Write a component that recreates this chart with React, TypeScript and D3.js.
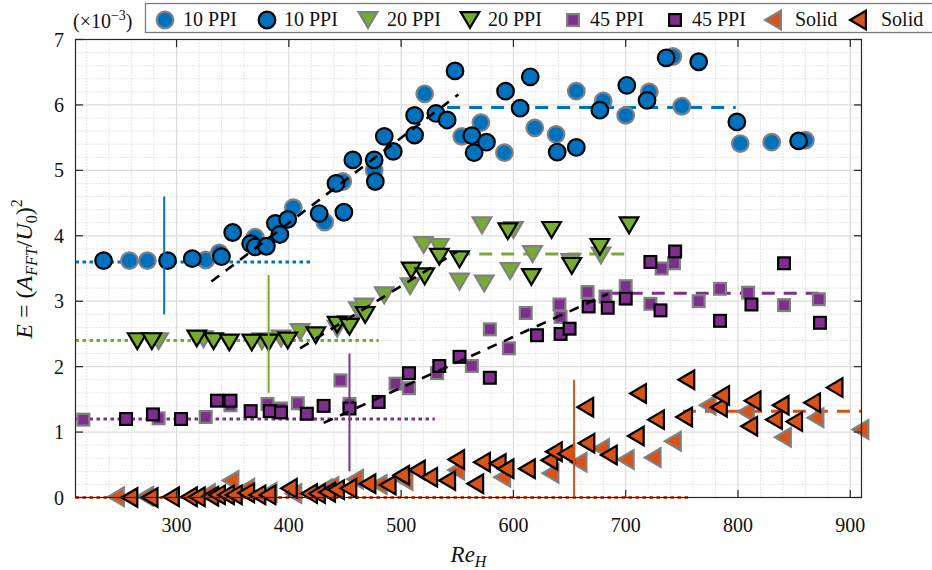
import React from 'react';
import * as d3 from 'd3';

// ---- data: Re_H and E (×10^-3) for each foam / solid case ----
const ppi10Gray: [number, number][] = [
  [258, 3.62], [274, 3.62], [326, 3.63], [338, 3.74], [370, 3.98], [404, 4.43], [432, 4.21],
  [448, 4.83], [476, 5.0], [521, 6.17], [554, 5.52], [571, 5.73], [592, 5.27], [619, 5.65],
  [638, 5.55], [656, 6.21], [680, 6.06], [700, 5.84], [721, 6.2], [742, 6.74], [750, 5.98],
  [802, 5.41], [830, 5.43], [860, 5.46],
];
const ppi10Black: [number, number][] = [
  [235, 3.62], [292, 3.62], [314, 3.65], [340, 3.68], [350, 4.05], [366, 3.88], [370, 3.83],
  [380, 3.84], [388, 4.19], [392, 4.02], [399, 4.25], [427, 4.34], [442, 4.8], [449, 4.36],
  [457, 5.16], [476, 5.16], [477, 4.83], [485, 5.52], [493, 5.29], [512, 5.84], [512, 5.54],
  [531, 5.87], [541, 5.77], [548, 6.52], [563, 5.53], [565, 5.27], [576, 5.43], [593, 6.21],
  [606, 5.95], [615, 6.43], [639, 5.28], [656, 5.35], [677, 5.92], [701, 6.3], [719, 6.07],
  [736, 6.72], [765, 6.66], [799, 5.74], [854, 5.45],
];
const ppi20Gray: [number, number][] = [
  [284, 2.39], [324, 2.42], [376, 2.39], [393, 2.43], [410, 2.53], [443, 2.58], [452, 2.65],
  [462, 2.86], [467, 2.92], [485, 3.09], [508, 3.23], [520, 3.86], [534, 3.83], [552, 3.3],
  [572, 4.16], [574, 3.27], [597, 3.46], [600, 4.09], [617, 3.72], [651, 3.6], [678, 3.7],
];
const ppi20Black: [number, number][] = [
  [265, 2.39], [278, 2.39], [318, 2.43], [333, 2.39], [347, 2.37], [367, 2.37], [382, 2.37],
  [399, 2.4], [424, 2.48], [443, 2.64], [454, 2.61], [468, 2.79], [509, 3.47], [521, 3.38],
  [534, 3.68], [552, 3.64], [595, 4.07], [616, 3.37], [634, 4.09], [652, 3.54], [677, 3.83],
  [703, 4.16],
];
const ppi45Gray: [number, number][] = [
  [217, 1.19], [284, 1.21], [326, 1.23], [348, 1.41], [381, 1.43], [393, 1.36], [408, 1.44],
  [446, 1.79], [454, 1.43], [495, 1.74], [507, 1.67], [532, 1.9], [563, 2.01], [579, 2.57],
  [596, 2.28], [611, 2.82], [641, 2.95], [642, 2.76], [666, 3.14], [682, 3.07], [700, 3.23],
  [722, 2.96], [732, 3.5], [743, 3.58], [765, 3.0], [784, 3.19], [809, 3.13], [841, 2.94],
  [872, 3.03],
];
const ppi45Black: [number, number][] = [
  [255, 1.2], [279, 1.27], [304, 1.2], [336, 1.48], [348, 1.48], [366, 1.32], [383, 1.32],
  [393, 1.3], [416, 1.28], [431, 1.4], [454, 1.36], [480, 1.46], [507, 1.9], [534, 2.01],
  [552, 2.15], [579, 1.83], [621, 2.48], [642, 2.5], [650, 2.58], [667, 2.92], [684, 2.9],
  [700, 3.04], [722, 3.6], [731, 2.86], [744, 3.76], [784, 2.7], [812, 2.95], [841, 3.58],
  [873, 2.67],
];
const solidGray: [number, number][] = [
  [246, 0.01], [272, 0.02], [327, 0.06], [348, 0.26], [362, 0.14], [382, 0.08], [404, 0.06],
  [431, 0.13], [437, 0.17], [459, 0.28], [480, 0.2], [503, 0.26], [549, 0.42], [590, 0.31],
  [633, 0.37], [658, 0.54], [678, 0.75], [700, 0.58], [724, 0.61], [742, 0.86], [773, 1.41],
  [807, 1.31], [840, 0.92], [869, 1.22], [909, 1.04],
];
const solidBlack: [number, number][] = [
  [258, 0.0], [276, 0.0], [295, 0.01], [311, 0.01], [318, 0.01], [330, 0.02], [336, 0.04],
  [344, 0.04], [351, 0.04], [362, 0.07], [372, 0.04], [381, 0.04], [400, 0.14], [418, 0.06],
  [425, 0.06], [434, 0.08], [442, 0.12], [453, 0.14], [470, 0.21], [488, 0.19], [500, 0.34],
  [514, 0.42], [525, 0.31], [541, 0.26], [549, 0.58], [566, 0.21], [572, 0.54], [586, 0.52],
  [593, 0.44], [612, 0.44], [632, 0.57], [636, 0.7], [647, 0.67], [664, 1.38], [665, 0.83],
  [685, 0.65], [709, 0.94], [711, 1.59], [727, 1.19], [752, 1.23], [754, 1.8], [783, 1.38],
  [785, 1.56], [810, 1.09], [813, 1.48], [832, 1.19], [838, 1.41], [850, 1.16], [866, 1.45],
  [886, 1.68],
];

// low-Re plateau levels [Re start, Re end, E]
const lowPlateaus: [number, number, number][] = [
  [210, 420, 3.6], [210, 480, 2.4], [210, 530, 1.2], [210, 758, 0],
];
// high-Re plateau levels [Re start, Re end, E]
const highPlateaus: [number, number, number][] = [
  [541, 798, 5.96], [550, 700, 3.72], [684, 874, 3.12], [751, 910, 1.32],
];
// linear growth fits [Re0, E0, Re1, E1]
const growthFits: [number, number, number, number][] = [
  [331, 3.3, 551, 6.16], [410, 2.28, 550, 3.76], [431, 1.14, 684, 3.11],
];
// onset markers [Re, E low, E high]
const onsetBars: [number, number, number][] = [
  [289, 2.8, 4.6], [382, 1.6, 3.4], [454, 0.4, 2.2], [654, 0, 1.8],
];

const xTicks = [300, 400, 500, 600, 700, 800, 900];
const yTicks = [0, 1, 2, 3, 4, 5, 6, 7];
const legendLabels = ['10 PPI', '10 PPI', '20 PPI', '20 PPI', '45 PPI', '45 PPI', 'Solid', 'Solid'];

// ---- styling ----
const BLUE = '#0072BD';
const GREEN = '#77AC30';
const PURPLE = '#7E2F8E';
const ORANGE = '#D95319';
const GRAY_EDGE = '#808080';
const SERIES_COLORS = [BLUE, GREEN, PURPLE, ORANGE];
const FONT = '"Liberation Serif", "Times New Roman", Times, serif';

type Shape = 'circle' | 'down' | 'square' | 'left';

const series: { data: [number, number][]; shape: Shape; fill: string; edge: string }[] = [
  { data: ppi10Gray, shape: 'circle', fill: BLUE, edge: GRAY_EDGE },
  { data: ppi10Black, shape: 'circle', fill: BLUE, edge: '#000' },
  { data: ppi20Gray, shape: 'down', fill: GREEN, edge: GRAY_EDGE },
  { data: ppi20Black, shape: 'down', fill: GREEN, edge: '#000' },
  { data: ppi45Gray, shape: 'square', fill: PURPLE, edge: GRAY_EDGE },
  { data: ppi45Black, shape: 'square', fill: PURPLE, edge: '#000' },
  { data: solidGray, shape: 'left', fill: ORANGE, edge: GRAY_EDGE },
  { data: solidBlack, shape: 'left', fill: ORANGE, edge: '#000' },
];

// legend slot centres (marker x, text x)
const legendMarkerX = [165, 267, 368, 470, 573, 675, 773, 858];
const legendTextX = [183, 284, 387, 488, 590, 692, 795, 881];

function Marker({ shape, x, y, fill, edge }: { shape: Shape; x: number; y: number; fill: string; edge: string }) {
  const common = { fill, stroke: edge, strokeWidth: 2.2, strokeLinejoin: 'miter' as const };
  if (shape === 'circle') return <circle cx={x} cy={y} r={8.3} {...common} />;
  if (shape === 'square') return <rect x={x - 5.9} y={y - 5.9} width={11.8} height={11.8} {...common} />;
  if (shape === 'down') {
    const a = 9.3, b = 7.9;
    return <path d={`M${x - a},${y - b}L${x + a},${y - b}L${x},${y + b}Z`} {...common} />;
  }
  const a = 7.9, b = 9.3;
  return <path d={`M${x - a},${y}L${x + a},${y - b}L${x + a},${y + b}Z`} {...common} />;
}

export default function App() {
  const W = 932, H = 570;
  const left = 75.5, right = 861.5, top = 39.5, bottom = 497.5;
  const x = d3.scaleLinear().domain([210, 910]).range([left, right]);
  const y = d3.scaleLinear().domain([0, 7]).range([bottom, top]);

  const minorX = d3.range(220, 910, 20).filter((v) => v % 100 !== 0);
  const minorY = d3.range(1, 35).map((i) => i * 0.2).filter((v) => Math.abs(v - Math.round(v)) > 1e-6);
  const tickLen = 7.5;
  const axisColor = '#262626';

  return (
    <svg width={W} height={H} style={{ position: 'absolute', left: 0, top: 0, background: '#fff' }} fontFamily={FONT}>
      <rect x={0} y={0} width={W} height={H} fill="#fff" />
      {/* minor grid */}
      <g stroke="#c0c0c0" strokeWidth={0.8} strokeDasharray="1 2">
        {minorX.map((v) => <line key={'mx' + v} x1={x(v)} x2={x(v)} y1={top} y2={bottom} />)}
        {minorY.map((v) => <line key={'my' + v} x1={left} x2={right} y1={y(v)} y2={y(v)} />)}
      </g>
      {/* major grid */}
      <g stroke="#dcdcdc" strokeWidth={1.2}>
        {xTicks.map((v) => <line key={'gx' + v} x1={x(v)} x2={x(v)} y1={top} y2={bottom} />)}
        {yTicks.slice(1, -1).map((v) => <line key={'gy' + v} x1={left} x2={right} y1={y(v)} y2={y(v)} />)}
      </g>

      {/* plateau levels */}
      {lowPlateaus.map(([a, b, e], i) => (
        <line key={'lp' + i} x1={x(a)} x2={x(b)} y1={y(e)} y2={y(e)} stroke={SERIES_COLORS[i]} strokeWidth={3} strokeDasharray="3.5 3.5" />
      ))}
      {highPlateaus.map(([a, b, e], i) => (
        <line key={'hp' + i} x1={x(a)} x2={x(b)} y1={y(e)} y2={y(e)} stroke={SERIES_COLORS[i]} strokeWidth={3} strokeDasharray="13 9" />
      ))}

      {/* measurements */}
      {series.map((s, si) => (
        <g key={'s' + si}>
          {s.data.map(([re, e], i) => (
            <Marker key={i} shape={s.shape} x={x(re)} y={y(e)} fill={s.fill} edge={s.edge} />
          ))}
        </g>
      ))}

      {/* growth fits */}
      {growthFits.map(([r0, e0, r1, e1], i) => (
        <line key={'gf' + i} x1={x(r0)} y1={y(e0)} x2={x(r1)} y2={y(e1)} stroke="#000" strokeWidth={2.6} strokeDasharray="10 8" />
      ))}
      {/* onset markers */}
      {onsetBars.map(([re, lo, hi], i) => (
        <line key={'ob' + i} x1={x(re)} x2={x(re)} y1={y(lo)} y2={y(hi)} stroke={SERIES_COLORS[i]} strokeWidth={2} />
      ))}

      {/* axes box */}
      <rect x={left} y={top} width={right - left} height={bottom - top} fill="none" stroke={axisColor} strokeWidth={1.2} />
      <g stroke={axisColor} strokeWidth={1.2}>
        {xTicks.map((v) => (
          <g key={'tx' + v}>
            <line x1={x(v)} x2={x(v)} y1={bottom} y2={bottom - tickLen} />
            <line x1={x(v)} x2={x(v)} y1={top} y2={top + tickLen} />
          </g>
        ))}
        {yTicks.map((v) => (
          <g key={'ty' + v}>
            <line x1={left} x2={left + tickLen} y1={y(v)} y2={y(v)} />
            <line x1={right} x2={right - tickLen} y1={y(v)} y2={y(v)} />
          </g>
        ))}
      </g>
      <g fontSize={20} fill="#111">
        {xTicks.map((v) => (
          <text key={'lx' + v} x={x(v)} y={532} textAnchor="middle">{v}</text>
        ))}
        {yTicks.map((v) => (
          <text key={'ly' + v} x={64} y={y(v) + 7} textAnchor="end">{v}</text>
        ))}
      </g>

      {/* scale factor */}
      <text x={73} y={28} fontSize={20} fill="#111">
        (×10<tspan fontSize={14} dy={-8}>−3</tspan><tspan dy={8}>)</tspan>
      </text>

      {/* axis titles */}
      <text x={468.5} y={562} textAnchor="middle" fontSize={23} fill="#111">
        <tspan fontStyle="italic">Re</tspan>
        <tspan fontStyle="italic" fontSize={16} dy={5}>H</tspan>
      </text>
      <text transform="translate(32,269) rotate(-90)" textAnchor="middle" fontSize={24} fill="#111">
        <tspan fontStyle="italic">E</tspan>
        <tspan> = (</tspan>
        <tspan fontStyle="italic">A</tspan>
        <tspan fontStyle="italic" fontSize={16} dy={5}>FFT</tspan>
        <tspan dy={-5}>/</tspan>
        <tspan fontStyle="italic">U</tspan>
        <tspan fontSize={16} dy={5}>0</tspan>
        <tspan dy={-5}>)</tspan>
        <tspan fontSize={16} dy={-10}>2</tspan>
      </text>

      {/* legend */}
      <rect x={145.5} y={3.5} width={800} height={29} fill="#fff" stroke="#7a7a7a" strokeWidth={1.3} />
      {legendLabels.map((lab, i) => (
        <g key={'lg' + i}>
          <Marker shape={series[i].shape} x={legendMarkerX[i]} y={20} fill={series[i].fill} edge={series[i].edge} />
          <text x={legendTextX[i]} y={26} fontSize={20} fill="#111">{lab}</text>
        </g>
      ))}
    </svg>
  );
}
